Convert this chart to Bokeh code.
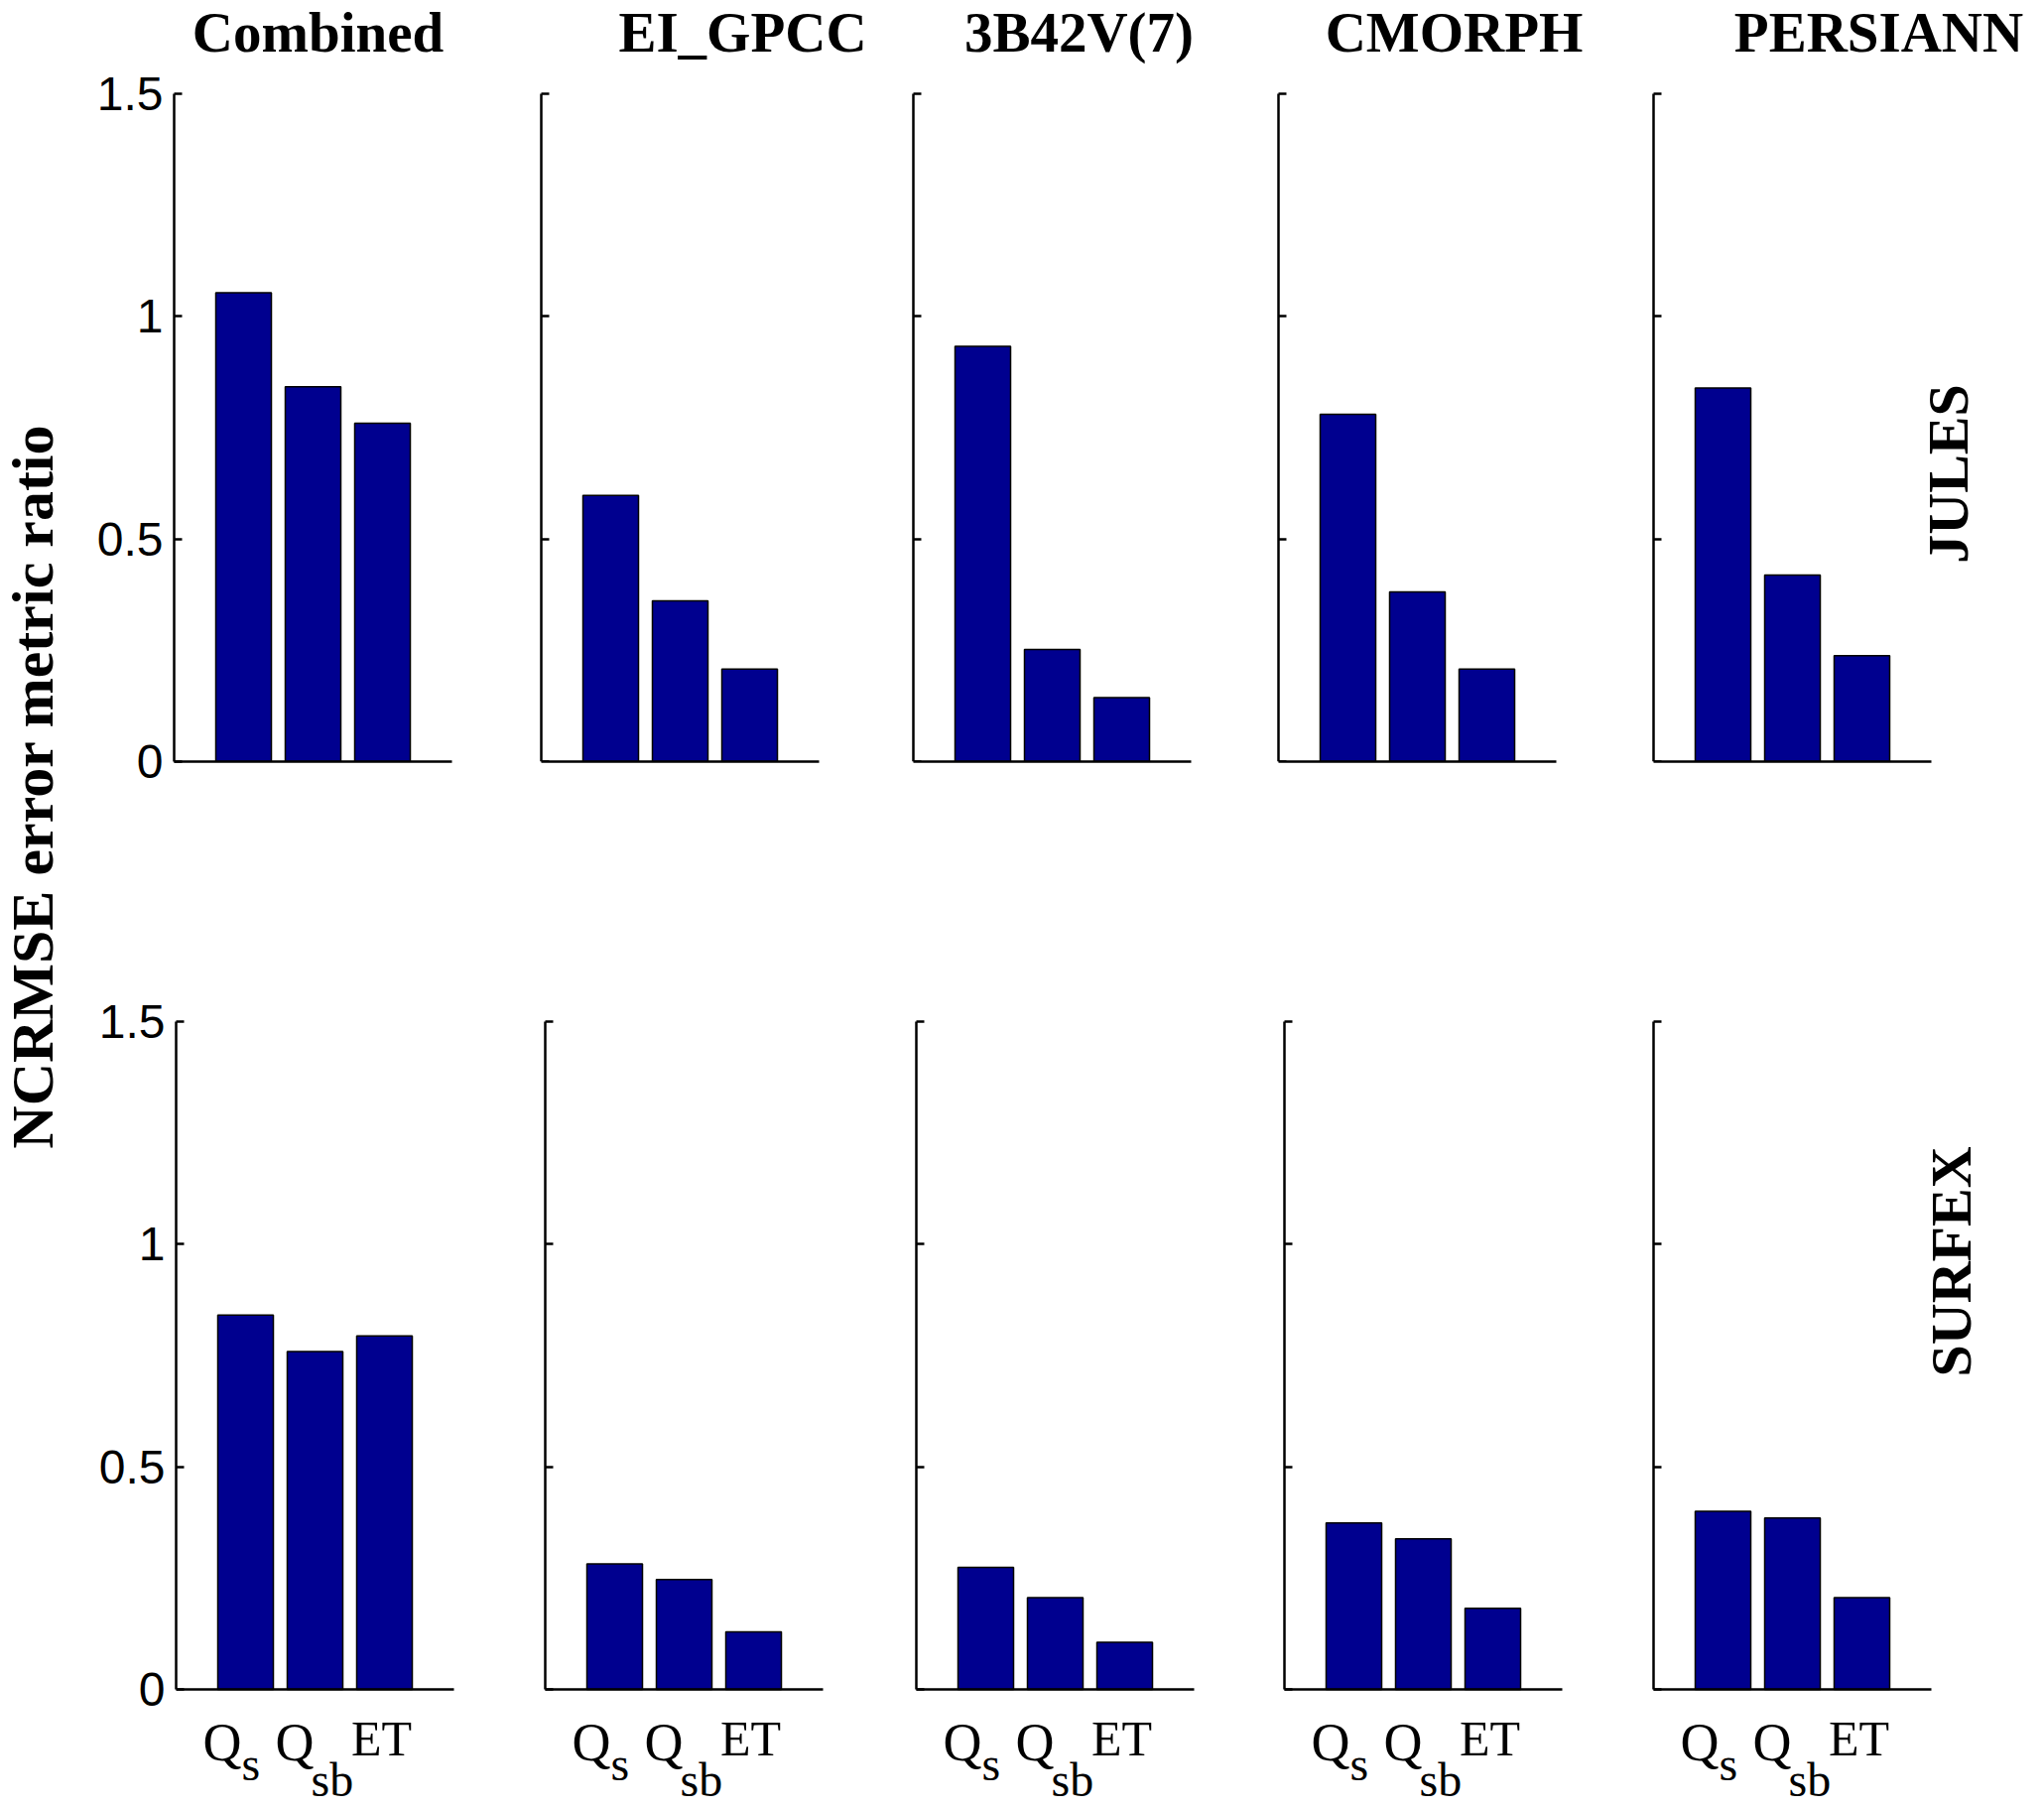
import math
from bokeh.plotting import figure
from bokeh.models import Range1d, Label, FixedTicker, LinearAxis
from bokeh.layouts import row, column
from bokeh.embed import file_html
from bokeh.resources import INLINE

# ---------------- data ----------------
products = ["Combined", "EI_GPCC", "3B42V(7)", "CMORPH", "PERSIANN"]
models = ["JULES", "SURFEX"]
variables = ["Qs", "Qsb", "ET"]
bar_x = [1, 2, 3]

jules_qs = [1.053, 0.598, 0.933, 0.780, 0.839]
jules_qsb = [0.842, 0.361, 0.252, 0.381, 0.419]
jules_et = [0.760, 0.208, 0.144, 0.208, 0.238]

surfex_qs = [0.841, 0.282, 0.274, 0.374, 0.400]
surfex_qsb = [0.759, 0.247, 0.206, 0.338, 0.385]
surfex_et = [0.794, 0.129, 0.106, 0.182, 0.206]

y_ticks = [0, 0.5, 1, 1.5]
y_tick_labels = ["0", "0.5", "1", "1.5"]
y_label = "NCRMSE error metric ratio"

# ---------------- layout constants (page pixels) ----------------
TOTAL_W = 2060
LABEL_W = 90
ROW1_H = 898
ROW2_H = 924
X_MAX = 4.0
Y_MAX = 1.5
PPX = 70.0                 # pixels per x unit (4 units -> 280 px)
PPY = 673 / Y_MAX          # pixels per y unit
bounds = [LABEL_W, 508, 898, 1248, 1633, TOTAL_W]   # canvas splits
top_lefts = [175, 545, 920, 1288, 1666]   # page x of data x = 0
bot_lefts = [177, 549, 923, 1294, 1666]
TOP_Y0 = 767       # page y of value 0 (top row)
BOT_Y0 = 1702      # page y of value 0 (bottom row)
title_cx = [320, 748, 1087, 1465, 1893]
TITLE_MID_Y = 32   # page y of title text middle
INNER_PAD = 10

BAR_COLOR = "#00008F"
SERIF = "Liberation Serif"
SANS = "Liberation Sans"


def make_panel(i, zero_x, canvas_top, canvas_h, y0_page, top_pad, bottom_pad, values, is_bottom):
    c_left, c_right = bounds[i], bounds[i + 1]
    if i == 0:
        left_border = zero_x - c_left
        f_left = zero_x
    else:
        left_border = INNER_PAD
        f_left = c_left + INNER_PAD
    f_right = c_right
    frame_w = f_right - f_left
    f_top = canvas_top + top_pad
    f_bottom = canvas_top + canvas_h - bottom_pad
    frame_h = f_bottom - f_top

    x_start = (f_left - zero_x) / PPX
    x_end = (f_right - zero_x) / PPX
    y_end = (y0_page - f_top) / PPY
    y_start = (y0_page - f_bottom) / PPY

    p = figure(frame_width=frame_w, frame_height=frame_h,
               x_range=Range1d(x_start, x_end), y_range=Range1d(y_start, y_end),
               toolbar_location=None, output_backend="svg",
               x_axis_location=None, y_axis_location=None,
               min_border_left=left_border, min_border_right=0,
               min_border_top=top_pad, min_border_bottom=bottom_pad)
    p.outline_line_color = None
    p.xgrid.visible = False
    p.ygrid.visible = False
    p.background_fill_color = "white"
    p.border_fill_color = "white"

    p.vbar(x=bar_x, top=values, width=0.8, bottom=0,
           fill_color=BAR_COLOR, line_color="black", line_width=1.5)

    # y axis
    ya = LinearAxis(ticker=FixedTicker(ticks=y_ticks), bounds=(0, Y_MAX))
    ya.major_tick_in = 8
    ya.major_tick_out = 0
    ya.minor_tick_in = 0
    ya.minor_tick_out = 0
    ya.axis_line_width = 2.5
    ya.major_tick_line_width = 2.5
    ya.axis_line_color = "black"
    ya.major_tick_line_color = "black"
    if i == 0:
        ya.major_label_overrides = {t: l for t, l in zip(y_ticks, y_tick_labels)}
        ya.major_label_standoff = 11
        ya.major_label_text_font = SANS
        ya.major_label_text_font_size = "48px"
        ya.major_label_text_color = "black"
    else:
        ya.fixed_location = 0
        ya.major_label_overrides = {t: "" for t in y_ticks}
        ya.major_label_standoff = 0
        ya.major_label_text_color = None
    p.add_layout(ya, "left")

    # x axis (line only)
    xa = LinearAxis(ticker=FixedTicker(ticks=[]), bounds=(0, X_MAX))
    xa.axis_line_width = 2.5
    xa.axis_line_color = "black"
    xa.major_tick_line_color = None
    xa.minor_tick_line_color = None
    xa.major_label_standoff = 0
    if is_bottom:
        xa.fixed_location = 0
        p.add_layout(xa, "above")
    else:
        p.add_layout(xa, "below")
    return p


def add_xlabels(p):
    # (text, bar index, x offset px, text-middle px below axis, align, size)
    parts = [
        ("Q", 0, -4, 53, "right", "54px"),
        ("s", 0, -4, 75, "left", "48px"),
        ("Q", 1, -1, 53, "right", "54px"),
        ("sb", 1, -4, 91, "left", "48px"),
        ("ET", 2, -3, 49, "center", "50px"),
    ]
    for txt, k, dx, dy, al, fs in parts:
        p.add_layout(Label(x=bar_x[k] + dx / PPX, y=-dy / PPY, text=txt,
                           text_font=SERIF, text_font_size=fs, text_color="black",
                           text_align=al, text_baseline="middle"))


top_vals = [list(v) for v in zip(jules_qs, jules_qsb, jules_et)]
bot_vals = [list(v) for v in zip(surfex_qs, surfex_qsb, surfex_et)]

top_figs = []
for i in range(5):
    p = make_panel(i, top_lefts[i], 0, ROW1_H, TOP_Y0, 0, ROW1_H - TOP_Y0,
                   top_vals[i], False)
    p.add_layout(Label(x=(title_cx[i] - top_lefts[i]) / PPX,
                       y=(TOP_Y0 - TITLE_MID_Y) / PPY,
                       text=products[i], text_font=SERIF, text_font_style="bold",
                       text_font_size="57px", text_color="black",
                       text_align="center", text_baseline="middle"))
    top_figs.append(p)

bot_figs = []
for i in range(5):
    p = make_panel(i, bot_lefts[i], ROW1_H, ROW2_H, BOT_Y0, 20, 0,
                   bot_vals[i], True)
    add_xlabels(p)
    bot_figs.append(p)

# model labels on the right
top_figs[4].add_layout(Label(x=(1963 - top_lefts[4]) / PPX, y=(TOP_Y0 - 477) / PPY,
                             text=models[0], angle=math.pi / 2, text_font=SERIF,
                             text_font_style="bold", text_font_size="58px",
                             text_color="black", text_align="center",
                             text_baseline="middle"))
bot_figs[4].add_layout(Label(x=(1966 - bot_lefts[4]) / PPX, y=(BOT_Y0 - 1271) / PPY,
                             text=models[1], angle=math.pi / 2, text_font=SERIF,
                             text_font_style="bold", text_font_size="58px",
                             text_color="black", text_align="center",
                             text_baseline="middle"))

# left y-axis label spanning both rows
TOTAL_H = ROW1_H + ROW2_H
lab = figure(frame_width=LABEL_W, frame_height=TOTAL_H, x_range=Range1d(0, LABEL_W),
             y_range=Range1d(0, TOTAL_H), toolbar_location=None, output_backend="svg",
             x_axis_location=None, y_axis_location=None,
             min_border_left=0, min_border_right=0, min_border_top=0, min_border_bottom=0)
lab.outline_line_color = None
lab.xgrid.visible = False
lab.ygrid.visible = False
lab.add_layout(Label(x=32, y=TOTAL_H - 792, text=y_label, angle=math.pi / 2,
                     text_font=SERIF, text_font_style="bold", text_font_size="60px",
                     text_color="black", text_align="center", text_baseline="middle"))

layout = row(lab, column(row(*top_figs), row(*bot_figs)))

open("out.html", "w").write(file_html(layout, INLINE))
